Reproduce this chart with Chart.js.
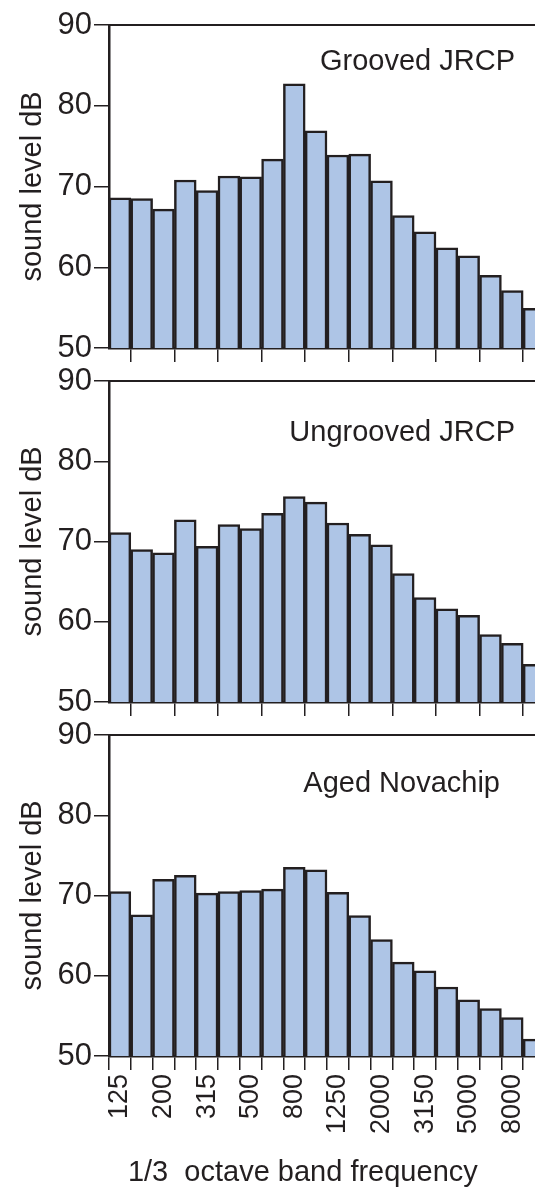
<!DOCTYPE html>
<html>
<head>
<meta charset="utf-8">
<script src="https://cdn.jsdelivr.net/npm/chart.js@4"></script>
<style>
  html, body { margin: 0; padding: 0; background: #fff; overflow: hidden; width: 535px; height: 1190px; }
  .panel { position: absolute; left: 0; width: 545px; }
</style>
</head>
<body>
<div class="panel" style="top:0;height:370px"><canvas id="c1"></canvas></div>
<div class="panel" style="top:356px;height:370px"><canvas id="c2"></canvas></div>
<div class="panel" style="top:710px;height:480px"><canvas id="c3"></canvas></div>
<script>
// 1/3 octave band centre frequencies
const bands = ['125','160','200','250','315','400','500','630','800','1000',
               '1250','1600','2000','2500','3150','4000','5000','6300','8000','10000'];

const groovedJRCP = [68.6, 68.5, 67.2, 70.8, 69.5, 71.3, 71.2, 73.4, 82.7, 76.9,
                     73.9, 74.0, 70.7, 66.4, 64.4, 62.4, 61.4, 59.0, 57.1, 54.9];
const ungroovedJRCP = [71.1, 69.0, 68.6, 72.7, 69.4, 72.1, 71.6, 73.5, 75.6, 74.9,
                       72.3, 70.9, 69.6, 66.0, 63.0, 61.6, 60.8, 58.4, 57.3, 54.7];
const agedNovachip = [70.5, 67.6, 72.0, 72.5, 70.3, 70.5, 70.6, 70.8, 73.5, 73.2,
                      70.4, 67.5, 64.5, 61.7, 60.6, 58.6, 57.0, 55.9, 54.8, 52.1];

const yTicks = [50, 60, 70, 80, 90];

const ink = '#231f20';
const font = '"Liberation Sans", Arial, sans-serif';

// frame line on top of the plot + panel label
const panelDecor = {
    id: 'panelDecor',
    afterDraw(chart, args, opts) {
        const { ctx, chartArea } = chart;
        ctx.save();
        ctx.strokeStyle = ink;
        ctx.lineWidth = 2;
        ctx.beginPath();
        ctx.moveTo(chartArea.left, chartArea.top);
        ctx.lineTo(chartArea.right, chartArea.top);
        ctx.stroke();
        ctx.fillStyle = ink;
        ctx.font = '29px ' + font;
        ctx.textAlign = 'right';
        ctx.textBaseline = 'middle';
        ctx.fillText(opts.label, opts.x, chartArea.top + opts.dy);
        ctx.restore();
    }
};

function makePanel(id, values, label, labelX, dy, xHeight, bottom) {
    new Chart(document.getElementById(id), {
        type: 'bar',
        data: {
            labels: bands,
            datasets: [{
                data: values,
                backgroundColor: '#aec5e6',
                borderColor: ink,
                borderWidth: 2.5,
                barPercentage: 1.0,
                categoryPercentage: 1.0
            }]
        },
        options: {
            responsive: true,
            maintainAspectRatio: false,
            animation: false,
            layout: { padding: { top: 25, left: 0, right: 0, bottom: 0 } },
            plugins: {
                legend: { display: false },
                tooltip: { enabled: false },
                panelDecor: { label: label, x: labelX, dy: dy }
            },
            scales: {
                x: {
                    afterFit: s => { s.height = xHeight; s.paddingLeft = 0; s.paddingRight = 0; },
                    border: { display: true, color: ink, width: 2.5 },
                    grid: {
                        offset: true,
                        drawOnChartArea: false,
                        color: c => (bottom || c.index % 2 === 1 ? ink : 'rgba(0,0,0,0)'),
                        lineWidth: 1.5,
                        tickLength: 14
                    },
                    ticks: {
                        display: bottom,
                        autoSkip: false,
                        minRotation: 90,
                        maxRotation: 90,
                        color: ink,
                        padding: 4,
                        font: { family: font, size: 27 },
                        callback: (v, i) => (i % 2 === 0 ? bands[i] : '')
                    },
                    title: {
                        display: bottom,
                        text: '1/3  octave band frequency      ',
                        color: ink,
                        align: 'center',
                        padding: { top: 0, bottom: 0 },
                        font: { family: font, size: 29 }
                    }
                },
                y: {
                    min: 50,
                    max: 90,
                    afterFit: s => { s.width = 109; },
                    afterBuildTicks: s => { s.ticks = yTicks.map(v => ({ value: v })); },
                    border: { display: true, color: ink, width: 2.5 },
                    grid: { drawOnChartArea: false, color: ink, lineWidth: 1.5, tickLength: 15 },
                    ticks: {
                        color: ink,
                        padding: 2,
                        font: { family: font, size: 31 }
                    },
                    title: {
                        display: true,
                        text: 'sound level dB',
                        color: ink,
                        padding: { top: 16, bottom: 2 },
                        font: { family: font, size: 29 }
                    }
                }
            }
        },
        plugins: [panelDecor]
    });
}

makePanel('c1', groovedJRCP, 'Grooved JRCP', 515, 37, 22, false);
makePanel('c2', ungroovedJRCP, 'Ungrooved JRCP', 515, 52, 24, false);
makePanel('c3', agedNovachip, 'Aged Novachip', 500, 49, 134, true);
</script>
</body>
</html>
